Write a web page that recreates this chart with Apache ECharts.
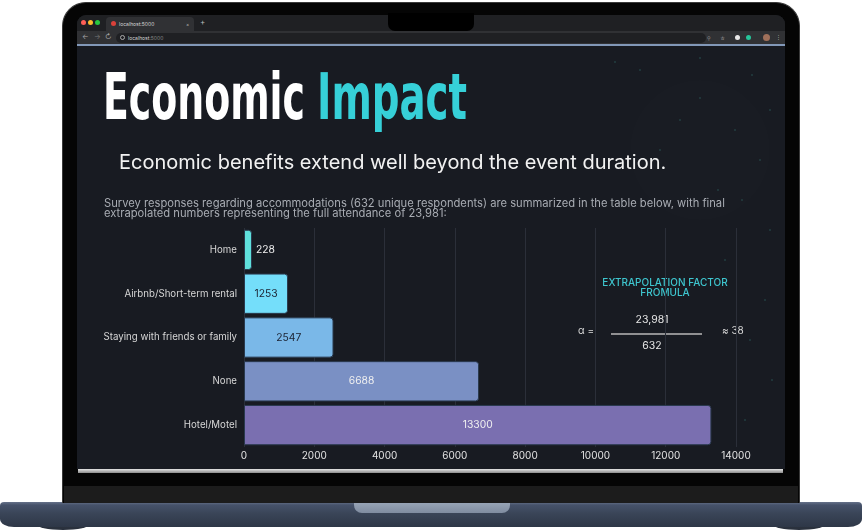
<!DOCTYPE html>
<html><head><meta charset="utf-8">
<script src="https://cdn.jsdelivr.net/npm/echarts@6/dist/echarts.min.js"></script>
<style>
html,body{margin:0;padding:0;background:#fff;width:862px;height:532px;overflow:hidden;font-family:Inter,"Noto Sans",sans-serif;}
.a{position:absolute;box-sizing:border-box;}
.t{position:absolute;font-size:5px;line-height:6px;color:#d8d8d8;white-space:nowrap;}
#chart{position:absolute;left:0;top:0;width:862px;height:532px;}
</style></head><body>
<!-- laptop base -->
<div class="a" style="left:36px;top:524px;width:54px;height:6px;background:#2a313d;border-radius:0 0 27px 27px/0 0 6px 6px;"></div>
<div class="a" style="left:772px;top:524px;width:54px;height:6px;background:#2a313d;border-radius:0 0 27px 27px/0 0 6px 6px;"></div>
<div class="a" style="left:0;top:502px;width:862px;height:25px;background:linear-gradient(#66728a 0%,#46526a 12%,#3a4558 45%,#2e3747 100%);border-radius:4px 4px 14px 14px/4px 4px 8px 8px;"></div>
<div class="a" style="left:354px;top:502px;width:156px;height:11px;background:linear-gradient(#9aa6b8,#7f8ca0);border-radius:0 0 8px 8px;"></div>
<!-- lid -->
<div class="a" style="left:62px;top:2px;width:738px;height:501px;background:#050505;border-radius:24px 24px 0 0;border:1px solid #3a3a3a;border-bottom:none;"></div>
<div class="a" style="left:64px;top:486px;width:734px;height:17px;background:#1c1c1c;"></div>
<!-- screen -->
<div class="a" style="left:77px;top:15px;width:708px;height:454px;background:#181b22;border-radius:9px 9px 0 0;"></div>
<div class="a" style="left:78px;top:469px;width:705px;height:4px;background:linear-gradient(#e4e4e4,#8c8c8c);"></div>
<!-- browser chrome -->
<div class="a" style="left:77px;top:15px;width:708px;height:16px;background:#1f2023;border-radius:9px 9px 0 0;"></div>
<div class="a" style="left:77px;top:31px;width:708px;height:13px;background:#303134;"></div>
<div class="a" style="left:77px;top:44px;width:708px;height:2px;background:#8298b8;"></div>
<div class="a" style="left:81px;top:20px;width:5px;height:5px;border-radius:50%;background:#ff5f57;"></div>
<div class="a" style="left:88px;top:20px;width:5px;height:5px;border-radius:50%;background:#febc2e;"></div>
<div class="a" style="left:95px;top:20px;width:5px;height:5px;border-radius:50%;background:#28c840;"></div>
<div class="a" style="left:106px;top:17px;width:88px;height:14px;background:#303134;border-radius:4px 4px 0 0;"></div>
<div class="a" style="left:111px;top:21px;width:5px;height:5px;border-radius:50%;background:#d9413a;"></div>
<div class="t" style="left:119px;top:20.5px;">localhost:5000</div>
<div class="t" style="left:186px;top:20.5px;color:#aaa;">×</div>
<div class="t" style="left:200px;top:19px;font-size:8px;color:#bbb;">+</div>
<div class="t" style="left:82px;top:34px;font-size:7px;color:#aaa;">←</div>
<div class="t" style="left:94px;top:34px;font-size:7px;color:#777;">→</div>
<div class="t" style="left:105px;top:34px;font-size:7px;color:#aaa;">↻</div>
<div class="a" style="left:116px;top:32.5px;width:590px;height:10px;background:#1f2023;border-radius:5px;"></div>
<div class="a" style="left:120px;top:35px;width:5px;height:5px;border-radius:50%;border:1px solid #aaa;"></div>
<div class="t" style="left:128px;top:34.5px;">localhost<span style="color:#888">:5000</span></div>
<div class="t" style="left:707px;top:34.5px;color:#999;">⚲</div>
<div class="t" style="left:720px;top:34.5px;color:#999;">☆</div>
<div class="a" style="left:735px;top:35px;width:5px;height:5px;border-radius:50%;background:#e8e8e8;"></div>
<div class="a" style="left:746px;top:35px;width:5px;height:5px;border-radius:50%;background:#26c59a;"></div>
<div class="a" style="left:763px;top:34px;width:7px;height:7px;border-radius:50%;background:#a0705a;"></div>
<div class="t" style="left:776px;top:34px;color:#aaa;">⋮</div>
<!-- notch -->
<div class="a" style="left:388px;top:13px;width:86px;height:18px;background:#000;border-radius:0 0 7px 7px;"></div>
<div id="chart"></div>
<script>
// ---- data ----
const categories = ['Home', 'Airbnb/Short-term rental', 'Staying with friends or family', 'None', 'Hotel/Motel'];
const values = [228, 1253, 2547, 6688, 13300];
const barColors = ['#5fe0dc', '#74defa', '#7ab8e8', '#7a90c4', '#7a6fb0'];
const labelColors = ['#f0f0f0', '#1b2130', '#1b2130', '#f0f0f0', '#f0f0f0'];
const labelPositions = ['right', 'inside', 'inside', 'inside', 'inside'];
const axisMin = 0, axisMax = 14000, axisStep = 2000;
const titleWords = ['Economic', 'Impact'];
const subtitle = 'Economic benefits extend well beyond the event duration.';
const surveyLines = [
  'Survey responses regarding accommodations (632 unique respondents) are summarized in the table below, with final',
  'extrapolated numbers representing the full attendance of 23,981:'
];
const formulaTitle = ['EXTRAPOLATION FACTOR', 'FROMULA'];
const formulaParts = { lhs: 'α =', numerator: '23,981', denominator: '632', result: '≈ 38' };

const chart = echarts.init(document.getElementById('chart'), null, { renderer: 'canvas' });
const FONT = 'Inter, "Noto Sans", sans-serif';
const TITLE_FONT = 'bold 64px "DejaVu Sans Condensed", "DejaVu Sans", sans-serif';

// condensed headline: scale the heavy font horizontally to the headline's width
const mctx = document.createElement('canvas').getContext('2d');
mctx.font = TITLE_FONT;
const fitScale = (txt, w) => w / mctx.measureText(txt).width;

const dots = [[640,70],[700,58],[752,75],[770,110],[735,130],[760,160],[742,200],[770,230],[725,260],[765,300],[750,340],[772,380],[745,420],[700,98],[660,150],[718,190],[615,62],[680,120]];

chart.setOption({
  backgroundColor: 'transparent',
  animation: false,
  grid: { left: 244, right: 126, top: 228, bottom: 85, containLabel: false },
  xAxis: {
    type: 'value', min: axisMin, max: axisMax, interval: axisStep,
    axisLine: { show: false }, axisTick: { show: false },
    splitLine: { show: true, lineStyle: { color: '#2b2f39', width: 1 } },
    axisLabel: { color: '#e2e2e2', fontSize: 10, fontFamily: FONT, margin: 4, formatter: v => String(v) }
  },
  yAxis: {
    type: 'category', data: categories, inverse: true,
    axisLine: { show: false }, axisTick: { show: false },
    axisLabel: { color: '#d6d6d6', fontSize: 9.7, fontFamily: FONT, margin: 7 }
  },
  series: [{
    type: 'bar',
    barCategoryGap: '8%',
    data: values.map((v, i) => ({
      value: v,
      itemStyle: { color: barColors[i] },
      label: { position: labelPositions[i], color: labelColors[i], distance: 4 }
    })),
    itemStyle: { borderColor: '#2a3a4e', borderWidth: 1, borderRadius: [0, 3, 3, 0] },
    label: { show: true, fontSize: 10.3, fontFamily: FONT }
  }],
  graphic: [
    { type: 'circle', z: -5, shape: { cx: 700, cy: 150, r: 70 }, style: { fill: 'rgba(255,255,255,0.008)' } },
    ...dots.map(d => ({ type: 'circle', z: -4, shape: { cx: d[0], cy: d[1], r: 0.7 }, style: { fill: 'rgba(80,200,190,0.4)' } })),
    { type: 'text', x: 103, y: 102, scaleX: fitScale(titleWords[0], 202), style: { text: titleWords[0], font: TITLE_FONT, fill: '#ffffff', align: 'left', verticalAlign: 'middle' } },
    { type: 'text', x: 317, y: 102, scaleX: fitScale(titleWords[1], 150), style: { text: titleWords[1], font: TITLE_FONT, fill: '#36d0d8', align: 'left', verticalAlign: 'middle' } },
    { type: 'text', x: 119, y: 163, style: { text: subtitle, font: '400 20px ' + FONT, fill: '#f2f2f2', align: 'left', verticalAlign: 'middle' } },
    { type: 'text', x: 104, y: 204, style: { text: surveyLines[0], font: '400 11.2px ' + FONT, fill: '#a8acb3', align: 'left', verticalAlign: 'middle' } },
    { type: 'text', x: 104, y: 214, style: { text: surveyLines[1], font: '400 11.2px ' + FONT, fill: '#a8acb3', align: 'left', verticalAlign: 'middle' } },
    { type: 'text', x: 665, y: 283, style: { text: formulaTitle[0], font: '500 10px ' + FONT, fill: '#3ec6cf', align: 'center', verticalAlign: 'middle' } },
    { type: 'text', x: 665, y: 293, style: { text: formulaTitle[1], font: '500 10px ' + FONT, fill: '#3ec6cf', align: 'center', verticalAlign: 'middle' } },
    { type: 'text', x: 578, y: 331, style: { text: formulaParts.lhs, font: '400 10px ' + FONT, fill: '#dcdcdc', align: 'left', verticalAlign: 'middle' } },
    { type: 'text', x: 652, y: 320, style: { text: formulaParts.numerator, font: '400 10.5px ' + FONT, fill: '#e6e6e6', align: 'center', verticalAlign: 'middle' } },
    { type: 'line', shape: { x1: 611, y1: 334, x2: 702, y2: 334 }, style: { stroke: '#b8b8b8', lineWidth: 1.3 } },
    { type: 'text', x: 652, y: 346, style: { text: formulaParts.denominator, font: '400 10.5px ' + FONT, fill: '#e6e6e6', align: 'center', verticalAlign: 'middle' } },
    { type: 'text', x: 722, y: 331, style: { text: formulaParts.result, font: '400 10px ' + FONT, fill: '#dcdcdc', align: 'left', verticalAlign: 'middle' } }
  ]
});
</script>
</body></html>
